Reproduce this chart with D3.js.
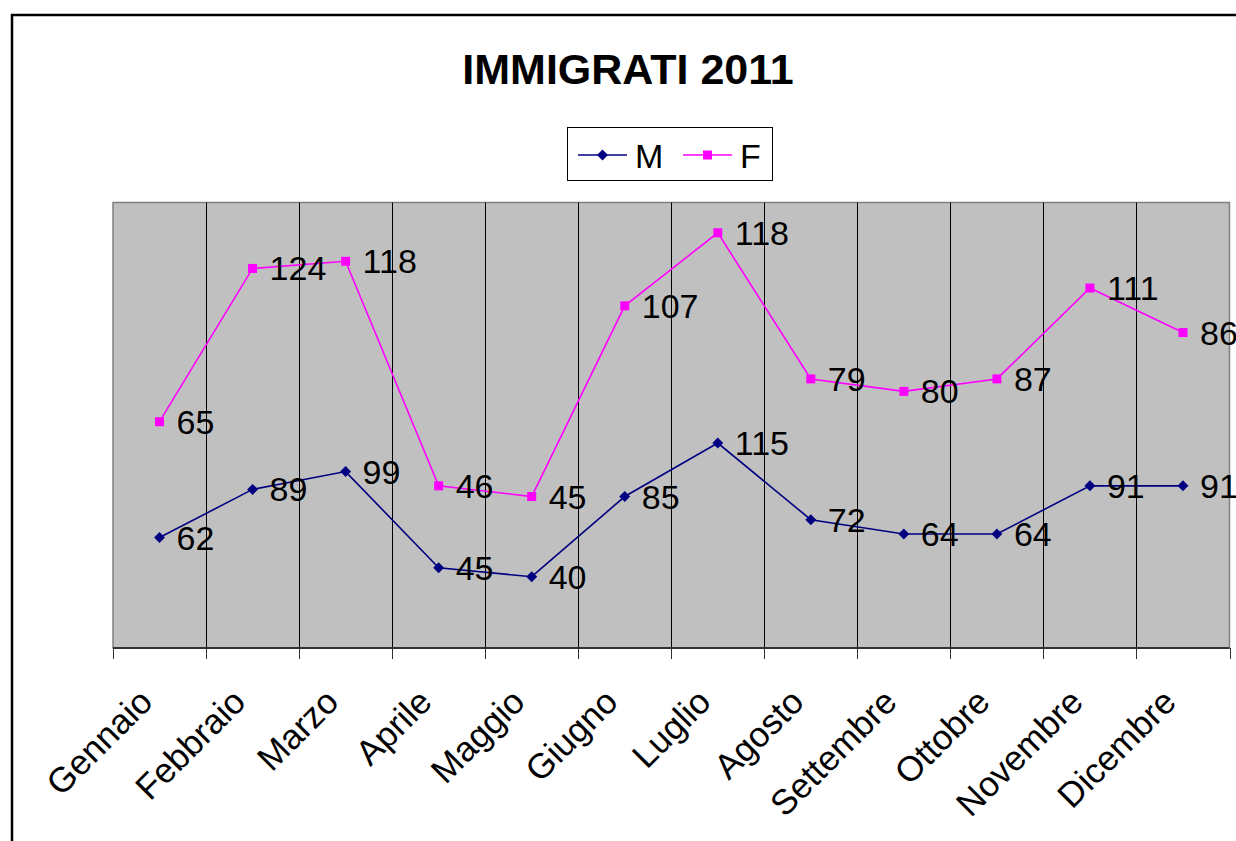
<!DOCTYPE html>
<html>
<head>
<meta charset="utf-8">
<script src="https://cdn.jsdelivr.net/npm/d3@7"></script>
<style>
  html, body { margin: 0; padding: 0; background: #fff; }
  svg { display: block; font-family: Arial, "Liberation Sans", sans-serif; }
</style>
</head>
<body>
<svg id="chart" width="1236" height="841"></svg>
<script>
const title = "IMMIGRATI 2011";
const months = ["Gennaio","Febbraio","Marzo","Aprile","Maggio","Giugno","Luglio","Agosto","Settembre","Ottobre","Novembre","Dicembre"];
const seriesNames = ["M", "F"];
const valuesM = [62, 89, 99, 45, 40, 85, 115, 72, 64, 64, 91, 91];
const valuesF = [65, 124, 118, 46, 45, 107, 118, 79, 80, 87, 111, 86];
const yDomain = [0, 250];
const colors = { M: "#000080", F: "#FF00FF" };

const svg = d3.select("#chart");

// outer chart frame (cut off at right/bottom like the reference)
svg.append("rect")
  .attr("x", 12).attr("y", 15)
  .attr("width", 1300).attr("height", 900)
  .attr("fill", "#fff").attr("stroke", "#000").attr("stroke-width", 2.5);

const plot = { left: 113, right: 1229.5, top: 202.5, bottom: 648 };

const x = d3.scaleBand().domain(months).range([plot.left, plot.right]).padding(0);
const y = d3.scaleLinear().domain(yDomain).range([plot.bottom, plot.top]);

// stacked values (Excel stacked line)
const stackedF = valuesF.map((v, i) => v + valuesM[i]);
const diamond = { type: d3.symbolSquare, size: 60, rot: 45 };
const square = { type: d3.symbolSquare, size: 81, rot: 0 };
const series = [
  { name: "M", plotted: valuesM, labels: valuesM, mk: diamond, color: colors.M },
  { name: "F", plotted: stackedF, labels: valuesF, mk: square, color: colors.F }
];

// plot area
svg.append("rect")
  .attr("x", plot.left).attr("y", plot.top)
  .attr("width", plot.right - plot.left).attr("height", plot.bottom - plot.top)
  .attr("fill", "#C0C0C0").attr("stroke", "#808080").attr("stroke-width", 1.5);

// vertical gridlines at category boundaries
const bounds = months.slice(1).map(m => x(m));
svg.append("g").selectAll("line").data(bounds).join("line")
  .attr("x1", d => Math.round(d) + 0.5).attr("x2", d => Math.round(d) + 0.5)
  .attr("y1", plot.top).attr("y2", plot.bottom)
  .attr("stroke", "#000").attr("stroke-width", 1);

// x axis with ticks between categories
const allBounds = [plot.left].concat(bounds).concat([plot.right]);
const axisG = svg.append("g");
axisG.append("line")
  .attr("x1", plot.left).attr("x2", plot.right)
  .attr("y1", plot.bottom).attr("y2", plot.bottom)
  .attr("stroke", "#333").attr("stroke-width", 2);
axisG.selectAll("line.tick").data(allBounds).join("line")
  .attr("class", "tick")
  .attr("x1", d => Math.round(d) + 0.5).attr("x2", d => Math.round(d) + 0.5)
  .attr("y1", plot.bottom).attr("y2", plot.bottom + 11)
  .attr("stroke", "#333").attr("stroke-width", 1);

// category labels rotated -45
axisG.selectAll("text.cat").data(months).join("text")
  .attr("class", "cat")
  .attr("transform", d => `translate(${x(d) + x.bandwidth() / 2 - 5},${704}) rotate(-45)`)
  .attr("text-anchor", "end")
  .attr("font-size", 35)
  .attr("fill", "#000")
  .text(d => d);

// lines, markers
const line = d3.line()
  .x((d, i) => x(months[i]) + x.bandwidth() / 2)
  .y(d => y(d));

series.forEach(s => {
  svg.append("path")
    .datum(s.plotted)
    .attr("d", line)
    .attr("fill", "none")
    .attr("stroke", s.color)
    .attr("stroke-width", 1.6);
  svg.append("g").selectAll("path").data(s.plotted).join("path")
    .attr("d", d3.symbol().type(s.mk.type).size(s.mk.size))
    .attr("transform", (d, i) => `translate(${x(months[i]) + x.bandwidth() / 2},${y(d)}) rotate(${s.mk.rot})`)
    .attr("fill", s.color);
});

// data labels
series.forEach(s => {
  svg.append("g").selectAll("text").data(s.plotted).join("text")
    .attr("x", (d, i) => x(months[i]) + x.bandwidth() / 2 + 17)
    .attr("y", d => y(d) + 12)
    .attr("font-size", 34)
    .attr("fill", "#000")
    .text((d, i) => s.labels[i]);
});

// title
svg.append("text")
  .attr("x", 628).attr("y", 84)
  .attr("text-anchor", "middle")
  .attr("font-size", 43)
  .attr("font-weight", "bold")
  .attr("fill", "#000")
  .text(title);

// legend
const lg = svg.append("g");
lg.append("rect")
  .attr("x", 567.5).attr("y", 127.5).attr("width", 205).attr("height", 53)
  .attr("fill", "#fff").attr("stroke", "#000").attr("stroke-width", 1);
const legendItems = [
  { name: seriesNames[0], x0: 578, mk: diamond, color: colors.M },
  { name: seriesNames[1], x0: 683, mk: square, color: colors.F }
];
legendItems.forEach(it => {
  lg.append("line")
    .attr("x1", it.x0).attr("x2", it.x0 + 49)
    .attr("y1", 155).attr("y2", 155)
    .attr("stroke", it.color).attr("stroke-width", 1.6);
  lg.append("path")
    .attr("d", d3.symbol().type(it.mk.type).size(it.mk.size))
    .attr("transform", `translate(${it.x0 + 24.5},155) rotate(${it.mk.rot})`)
    .attr("fill", it.color);
  lg.append("text")
    .attr("x", it.x0 + 57).attr("y", 168)
    .attr("font-size", 34)
    .attr("fill", "#000")
    .text(it.name);
});
</script>
</body>
</html>
